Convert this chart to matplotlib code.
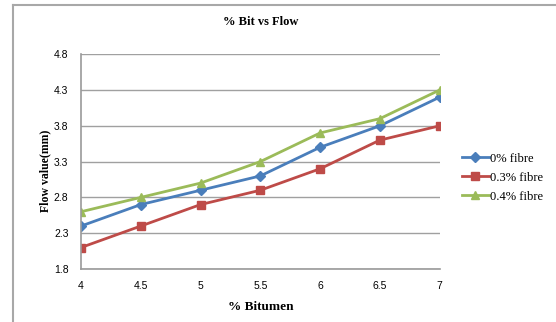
import numpy as np
import matplotlib.pyplot as plt
from matplotlib.lines import Line2D

bitumen = [4, 4.5, 5, 5.5, 6, 6.5, 7]
fibre_0 = [2.4, 2.7, 2.9, 3.1, 3.5, 3.8, 4.2]
fibre_03 = [2.1, 2.4, 2.7, 2.9, 3.2, 3.6, 3.8]
fibre_04 = [2.6, 2.8, 3.0, 3.3, 3.7, 3.9, 4.3]
yticks = [1.8, 2.3, 2.8, 3.3, 3.8, 4.3, 4.8]
xticks = [4, 4.5, 5, 5.5, 6, 6.5, 7]

fig = plt.figure(figsize=(5.56, 3.22), dpi=100)
ax = fig.add_axes([0.1457, 0.1646, 0.645, 0.667])

ax.plot(bitumen, fibre_0, color='#4A7EBB', lw=2, marker='D', ms=5, label='0% fibre')
ax.plot(bitumen, fibre_03, color='#BE4B48', lw=2, marker='s', ms=6, label='0.3% fibre')
ax.plot(bitumen, fibre_04, color='#9BBB59', lw=2, marker='^', ms=6, label='0.4% fibre')

ax.set_xlim(4, 7)
ax.set_ylim(1.8, 4.8)
ax.set_xticks(xticks)
ax.set_xticklabels([f'{v:g}' for v in xticks])
ax.set_yticks(yticks)
ax.set_yticklabels([f'{v:.1f}' for v in yticks])
ax.tick_params(length=0, labelsize=7.5, pad=9)
for lab in ax.get_xticklabels() + ax.get_yticklabels():
    lab.set_fontfamily('Liberation Sans')
ax.grid(axis='y', color='#A0A0A0', lw=1)
ax.set_axisbelow(True)
for s in ['top', 'right']:
    ax.spines[s].set_visible(False)
for s in ['left', 'bottom']:
    ax.spines[s].set_color('#9A9A9A')
    ax.spines[s].set_linewidth(1.2)

ax.set_title('% Bit vs Flow', fontfamily='Liberation Serif', fontweight='bold',
             fontsize=9, pad=21)
ax.set_xlabel('% Bitumen', fontfamily='Liberation Serif', fontweight='bold',
              fontsize=9.5, labelpad=7)
ax.set_ylabel('Flow value(mm)', fontfamily='Liberation Serif', fontweight='bold',
              fontsize=8.5)
ax.yaxis.set_label_coords(-0.083, 0.456)

ax.legend(loc='center left', bbox_to_anchor=(1.03, 0.425), frameon=False,
          prop={'family': 'Liberation Serif', 'size': 9}, handlelength=2.2,
          handletextpad=0.1, labelspacing=0.55)

# chart frame
fig.add_artist(Line2D([0.023, 0.023], [0.0, 0.985], color='#A8A8A8', lw=1.5))
fig.add_artist(Line2D([0.023, 1.0], [0.985, 0.985], color='#A8A8A8', lw=1.5))

fig.savefig('out.png', dpi=100)
